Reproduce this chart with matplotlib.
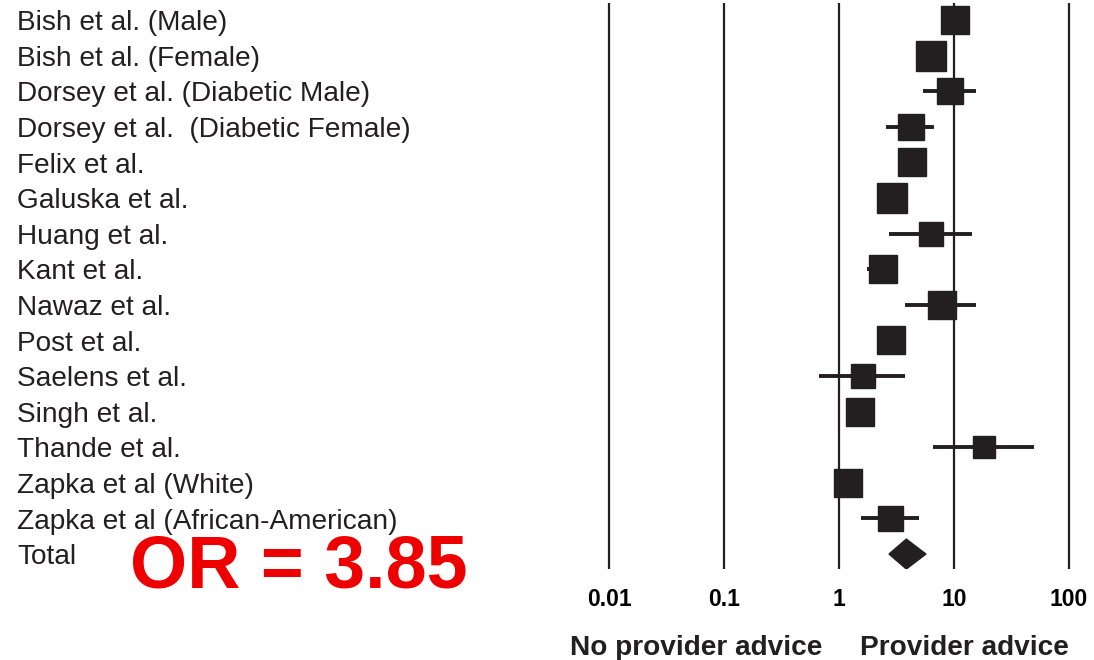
import matplotlib.pyplot as plt
from matplotlib.transforms import blended_transform_factory

studies = [
    "Bish et al. (Male)",
    "Bish et al. (Female)",
    "Dorsey et al. (Diabetic Male)",
    "Dorsey et al.  (Diabetic Female)",
    "Felix et al.",
    "Galuska et al.",
    "Huang et al.",
    "Kant et al.",
    "Nawaz et al.",
    "Post et al.",
    "Saelens et al.",
    "Singh et al.",
    "Thande et al.",
    "Zapka et al (White)",
    "Zapka et al (African-American)",
]
odds = [10.2, 6.3, 9.2, 4.2, 4.27, 2.89, 6.3, 2.39, 7.8, 2.84, 1.61, 1.51, 18.2, 1.19, 2.76]
ci_low = [8.6, 5.3, 5.4, 2.55, 3.6, 2.4, 2.7, 1.74, 3.73, 2.4, 0.67, 1.25, 6.6, 1.0, 1.55]
ci_high = [12.0, 7.5, 15.5, 6.7, 5.0, 3.4, 14.3, 2.9, 15.6, 3.3, 3.77, 1.8, 49.6, 1.4, 4.93]
weight = [28, 30, 27, 27, 28, 30, 24, 28, 28, 28, 24, 28, 23, 28, 25]

total_label = "Total"
total_or = 3.85
total_low = 2.72
total_high = 5.7

ticks = [0.01, 0.1, 1, 10, 100]
tick_labels = ["0.01", "0.1", "1", "10", "100"]

plt.rcParams["font.family"] = ["Liberation Sans", "DejaVu Sans"]
ink = "#231f20"

fig = plt.figure(figsize=(10.94, 6.6), dpi=100)
W, H = 1094, 660
ax = fig.add_axes([580 / W, 1 - 569 / H, (W - 580) / W, 566 / H])
ax.set_xscale("log")
ax.set_xlim(10 ** -2.252, 10 ** 2.217)
ax.set_ylim(15.42, -0.48)

for t in ticks:
    ax.axvline(t, color=ink, lw=1.6, zorder=1)

for i in range(len(studies)):
    ax.plot([ci_low[i], ci_high[i]], [i, i], color=ink, lw=2.8, zorder=2,
            solid_capstyle="butt")
    ax.plot(odds[i], i, marker="s", ms=weight[i] * 0.72, color=ink,
            mec=ink, zorder=3)

yt = len(studies)
h = 0.42
ax.fill([total_low, total_or, total_high, total_or],
        [yt, yt - h, yt, yt + h], color=ink, zorder=3)

ax.set_xticks(ticks)
ax.set_xticklabels(tick_labels, fontsize=16.5, fontweight="bold")
ax.xaxis.set_minor_locator(plt.NullLocator())
ax.tick_params(axis="x", length=0, pad=14)
ax.set_yticks([])
for s in ax.spines.values():
    s.set_visible(False)

tr = blended_transform_factory(fig.transFigure, ax.transData)
for i, name in enumerate(studies + [total_label]):
    ax.text(17 / W, i + 0.09, name, transform=tr, ha="left", va="center",
            fontsize=20.2, color=ink, clip_on=False)

fig.text(130 / W, 1 - 588 / H, f"OR = {total_or:.2f}", color="#ee0000",
         fontsize=53, fontweight="bold", ha="left", va="baseline")

fig.text(696 / W, 1 - 655 / H, "No provider advice", fontsize=20.2,
         fontweight="bold", color=ink, ha="center", va="baseline")
fig.text(964 / W, 1 - 655 / H, "Provider advice", fontsize=20.2,
         fontweight="bold", color=ink, ha="center", va="baseline")

fig.savefig("out.png", dpi=100)
